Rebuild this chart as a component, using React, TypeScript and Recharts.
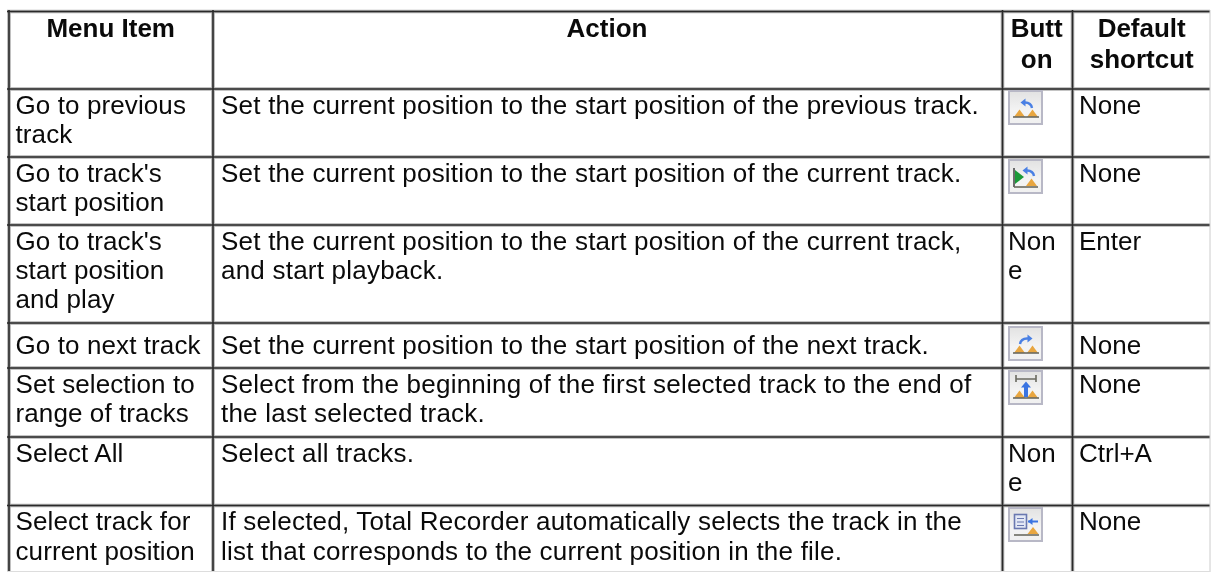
import React from "react";
import { ScatterChart, Scatter, XAxis, YAxis, ReferenceLine } from "recharts";

const W = 1211;
const H = 572;
const FONT = "'Liberation Sans', Arial, sans-serif";

// Table content, line by line
const headers = [
  { x: 110.7, y: 36.7, text: "Menu Item", anchor: "middle", bold: true },
  { x: 607, y: 36.7, text: "Action", anchor: "middle", bold: true },
  { x: 1036.7, y: 36.7, text: "Butt", anchor: "middle", bold: true },
  { x: 1036.7, y: 68, text: "on", anchor: "middle", bold: true },
  { x: 1141.7, y: 36.7, text: "Default", anchor: "middle", bold: true },
  { x: 1141.7, y: 68, text: "shortcut", anchor: "middle", bold: true },
];
const menuLines = [
  { x: 15.5, y: 114, text: "Go to previous" },
  { x: 15.5, y: 143, text: "track" },
  { x: 15.5, y: 182, text: "Go to track's" },
  { x: 15.5, y: 211, text: "start position" },
  { x: 15.5, y: 250, text: "Go to track's" },
  { x: 15.5, y: 279, text: "start position" },
  { x: 15.5, y: 308, text: "and play" },
  { x: 15.5, y: 354, text: "Go to next track" },
  { x: 15.5, y: 393, text: "Set selection to" },
  { x: 15.5, y: 422, text: "range of tracks" },
  { x: 15.5, y: 462, text: "Select All" },
  { x: 15.5, y: 530, text: "Select track for" },
  { x: 15.5, y: 560, text: "current position" },
];
const actionLines = [
  { x: 221, y: 114, text: "Set the current position to the start position of the previous track." },
  { x: 221, y: 182, text: "Set the current position to the start position of the current track." },
  { x: 221, y: 250, text: "Set the current position to the start position of the current track," },
  { x: 221, y: 279, text: "and start playback." },
  { x: 221, y: 354, text: "Set the current position to the start position of the next track." },
  { x: 221, y: 393, text: "Select from the beginning of the first selected track to the end of" },
  { x: 221, y: 422, text: "the last selected track." },
  { x: 221, y: 462, text: "Select all tracks." },
  { x: 221, y: 530, text: "If selected, Total Recorder automatically selects the track in the" },
  { x: 221, y: 560, text: "list that corresponds to the current position in the file." },
];
const buttonLines = [
  { x: 1008, y: 250, text: "Non" },
  { x: 1008, y: 279, text: "e" },
  { x: 1008, y: 462, text: "Non" },
  { x: 1008, y: 491, text: "e" },
];
const shortcutLines = [
  { x: 1079, y: 114, text: "None" },
  { x: 1079, y: 182, text: "None" },
  { x: 1079, y: 250, text: "Enter" },
  { x: 1079, y: 354, text: "None" },
  { x: 1079, y: 393, text: "None" },
  { x: 1079, y: 462, text: "Ctrl+A" },
  { x: 1079, y: 530, text: "None" },
];
const buttonIcons = [
  { x: 1008, y: 90, kind: "prev" },
  { x: 1008, y: 159, kind: "start" },
  { x: 1008, y: 326, kind: "next" },
  { x: 1008, y: 370, kind: "range" },
  { x: 1008, y: 507, kind: "select" },
];
const columnRules = [9, 213, 1002.5, 1072.5];
const rowRules = [11.5, 89, 157, 225, 323, 368, 437, 505.5];

const makeText = (spacing: number) => (p: any) => {
  const { cx, cy, payload } = p;
  return (
    <text
      x={cx}
      y={cy}
      textAnchor={payload.anchor || "start"}
      fontFamily={FONT}
      fontSize={26}
      letterSpacing={spacing}
      fontWeight={payload.bold ? 700 : 400}
      fill="#0a0a0a"
    >
      {payload.text}
    </text>
  );
};

const Peak = ({ x, y }: { x: number; y: number }) => (
  <g>
    <path d={`M${x} ${y}l5.5 -7.5l5.5 7.5z`} fill="#e8a640" />
    <path d={`M${x - 1} ${y}h13`} stroke="#6a6a60" strokeWidth={1.6} />
  </g>
);

const Icon = (p: any) => {
  const { cx, cy, payload } = p;
  const k = payload.kind;
  const gid = "iconfill-" + k;
  return (
    <g transform={`translate(${cx},${cy})`}>
      <defs>
        <linearGradient id={gid} x1="0" y1="0" x2="0" y2="1">
          <stop offset="0" stopColor="#e2e2e2" />
          <stop offset="0.6" stopColor="#f4f4f4" />
          <stop offset="1" stopColor="#f0f0f0" />
        </linearGradient>
      </defs>
      <rect x={1} y={1} width={33} height={33} fill={`url(#${gid})`} stroke="#b8b8c6" strokeWidth={2} />
      {k === "prev" && (
        <g>
          <Peak x={6} y={27} />
          <Peak x={19} y={27} />
          <path d="M24 18q-1 -6 -8 -5.5" stroke="#4a80e4" strokeWidth={2.4} fill="none" />
          <path d="M12.5 12.5l5 -4v8z" fill="#4a80e4" />
        </g>
      )}
      {k === "start" && (
        <g>
          <path d="M7 11l9 7l-9 7z" fill="#1a9a38" />
          <path d="M6 9v19" stroke="#4a4a4a" strokeWidth={1.6} />
          <path d="M6 28h24" stroke="#6a6a60" strokeWidth={1.6} />
          <path d="M18 27l5.5 -7.5l5.5 7.5z" fill="#e8a640" />
          <path d="M26 17q-1 -6 -8 -5.5" stroke="#4a80e4" strokeWidth={2.4} fill="none" />
          <path d="M14.5 11.5l5 -4v8z" fill="#4a80e4" />
        </g>
      )}
      {k === "next" && (
        <g>
          <Peak x={6} y={27} />
          <Peak x={19} y={27} />
          <path d="M12 18q1 -6 8 -5.5" stroke="#4a80e4" strokeWidth={2.4} fill="none" />
          <path d="M24.5 12.5l-5 -4v8z" fill="#4a80e4" />
        </g>
      )}
      {k === "range" && (
        <g>
          <Peak x={6} y={28} />
          <Peak x={19} y={28} />
          <path d="M8 9h20M8 5v7M28 5v7" stroke="#6a6a60" strokeWidth={1.6} />
          <path d="M18 11.5l-5 6h10z" fill="#3a74e2" />
          <path d="M16 17h4v10h-4z" fill="#3a74e2" />
        </g>
      )}
      {k === "select" && (
        <g>
          <rect x={6.5} y={7.5} width={12} height={14} fill="#e3e8f5" stroke="#6a78b0" strokeWidth={1.6} />
          <path d="M9 11.5h7M9 15h7M9 18.5h7" stroke="#6a78b0" strokeWidth={1.2} />
          <path d="M20 14.5h10" stroke="#3a74e2" strokeWidth={2} />
          <path d="M20 14.5l4.5 -3.5v7z" fill="#3a74e2" />
          <path d="M19.5 27l5.5 -7l5.5 7z" fill="#e8a640" />
          <path d="M6 28h25" stroke="#6a6a60" strokeWidth={1.6} />
        </g>
      )}
    </g>
  );
};

const textSeries = [
  { rows: headers, shape: makeText(0) },
  { rows: menuLines, shape: makeText(0.1) },
  { rows: actionLines, shape: makeText(0.22) },
  { rows: buttonLines, shape: makeText(0) },
  { rows: shortcutLines, shape: makeText(0) },
];

export default function App() {
  return (
    <div style={{ position: "absolute", left: 0, top: 0, width: W, height: H, background: "#fff", filter: "blur(0.45px)" }}>
      <ScatterChart width={W} height={H} margin={{ top: 0, right: 0, bottom: 0, left: 0 }}>
        <XAxis type="number" dataKey="x" domain={[0, W]} hide allowDataOverflow />
        <YAxis type="number" dataKey="y" domain={[0, H]} reversed hide allowDataOverflow width={0} />
        {columnRules.map((x) => (
          <ReferenceLine key={"cg" + x} stroke="#b0b0b0" strokeWidth={3.6} segment={[{ x, y: 10 }, { x, y: H }]} />
        ))}
        {rowRules.map((y) => (
          <ReferenceLine key={"rg" + y} stroke="#b0b0b0" strokeWidth={3.6} segment={[{ x: 7, y }, { x: 1210, y }]} />
        ))}
        {columnRules.map((x) => (
          <ReferenceLine key={"cd" + x} stroke="#2a2a2a" strokeWidth={1.6} segment={[{ x, y: 10 }, { x, y: H }]} />
        ))}
        {rowRules.map((y) => (
          <ReferenceLine key={"rd" + y} stroke="#2a2a2a" strokeWidth={1.6} segment={[{ x: 7, y }, { x: 1210, y }]} />
        ))}
        <ReferenceLine stroke="#cccccc" strokeWidth={1} segment={[{ x: 1210, y: 10 }, { x: 1210, y: H }]} />
        <ReferenceLine stroke="#dddddd" strokeWidth={1} segment={[{ x: 7, y: 571.5 }, { x: 1210, y: 571.5 }]} />
        {textSeries.map((s, i) => (
          <Scatter key={i} data={s.rows} shape={s.shape} isAnimationActive={false} />
        ))}
        <Scatter data={buttonIcons} shape={Icon} isAnimationActive={false} />
      </ScatterChart>
    </div>
  );
}
